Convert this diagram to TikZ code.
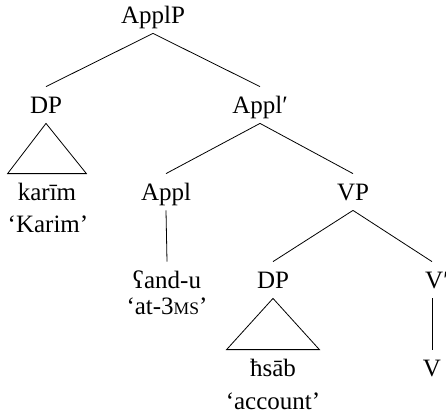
\documentclass[tikz,border=0pt]{standalone}
\usepackage{fontspec}
\setmainfont{Liberation Serif}
\newcommand{\smallcap}[1]{{\fontsize{8.8pt}{10pt}\selectfont #1}}
\begin{document}
\begin{tikzpicture}[x=.5pt, y=-.5pt,
    font=\fontsize{12.5pt}{14pt}\selectfont,
    cat/.style={anchor=base, inner sep=4pt, text height=9pt, text depth=1pt},
    gloss/.style={anchor=base, inner sep=0pt}]
      \useasboundingbox (0, 0) rectangle (446, 414);
      % nodes
      \node[cat] (applp) at (153, 23) {ApplP};
      \node[cat] (dp1) at (46, 113) {DP};
      \node[cat] (applbar) at (260, 113) {Appl′};
      \node[cat, minimum width=39pt, inner xsep=0pt] (karim) at (47, 200) {karīm};
      \node[gloss] (karimgl) at (48, 232) {‘Karim’};
      \node[cat] (appl) at (166, 200) {Appl};
      \node[cat] (vp) at (353, 200) {VP};
      \node[cat] (andu) at (167, 288) {ʕand-u};
      \node[gloss] (andugl) at (167, 314) {‘at-3\smallcap{MS}’};
      \node[cat] (dp2) at (273, 288) {DP};
      \node[cat] (vbar) at (437, 288) {V′};
      \node[cat, minimum width=46pt, inner xsep=0pt] (hsab) at (273, 376) {ħsāb};
      \node[gloss] (hsabgl) at (273, 409) {‘account’};
      \node[cat] (v) at (432, 376) {V};
      % lines
      \draw (applp.south) -- (dp1.north);
      \draw (applp.south) -- (applbar.north);
      \draw (applbar.south) -- (appl.north);
      \draw (applbar.south) -- (vp.north);
      \draw (appl.south) -- (andu.north);
      \draw (vp.south) -- (dp2.north);
      \draw (vp.south) -- ([xshift=-2.5pt]vbar.north);
      \draw ([xshift=-2.5pt]vbar.south) -- (v.north);
      % triangles
      \draw (dp1.south) -- (karim.north west) -- (karim.north east) -- cycle;
      \draw (dp2.south) -- (hsab.north west) -- (hsab.north east) -- cycle;
    \end{tikzpicture}
\end{document}
